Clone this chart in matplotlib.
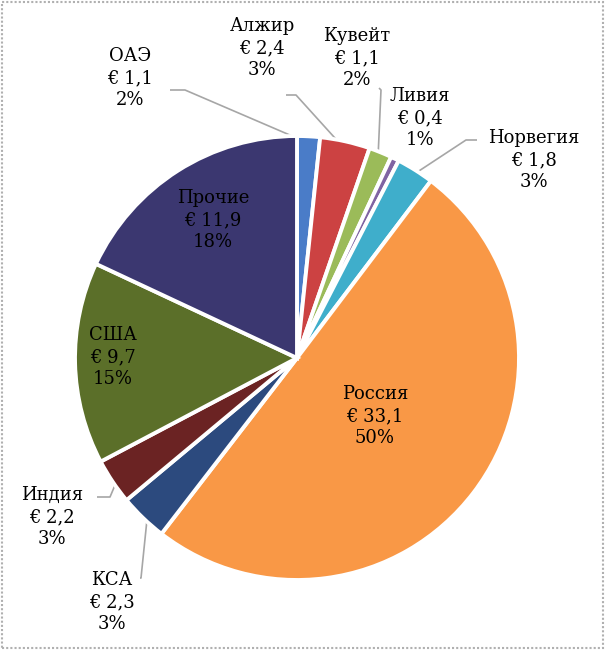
import numpy as np
import matplotlib
matplotlib.use("Agg")
import matplotlib.pyplot as plt
from matplotlib.patches import Rectangle

countries = ["ОАЭ", "Алжир", "Кувейт", "Ливия", "Норвегия", "Россия", "КСА", "Индия", "США", "Прочие"]
values = [1.1, 2.4, 1.1, 0.4, 1.8, 33.1, 2.3, 2.2, 9.7, 11.9]
value_labels = ["1,1", "2,4", "1,1", "0,4", "1,8", "33,1", "2,3", "2,2", "9,7", "11,9"]
percents = ["2%", "3%", "2%", "1%", "3%", "50%", "3%", "3%", "15%", "18%"]
colors = ["#4A7CC8", "#CC4242", "#9BBB59", "#8064A2", "#3FAECB",
          "#F99846", "#2C4A7E", "#6B2323", "#5B6F29", "#3B3770"]

W, H = 606, 650
fig = plt.figure(figsize=(W / 100, H / 100), dpi=100)
ax = fig.add_axes([0, 0, 1, 1])

cx, cy, R = 297, H - 358, 222
wedges, _ = ax.pie(values, colors=colors, startangle=90, counterclock=False,
                   center=(cx, cy), radius=R,
                   wedgeprops=dict(edgecolor="white", linewidth=2.8))
ax.set_xlim(0, W)
ax.set_ylim(0, H)
ax.set_aspect("equal")
ax.axis("off")

# label layout (pixel positions in image coords), leader bend point or None
label_pos = {
    "ОАЭ": ((130, 78), (185, 90)),
    "Алжир": ((262, 48), (296, 95)),
    "Кувейт": ((357, 58), (381, 90)),
    "Ливия": ((420, 118), None),
    "Норвегия": ((534, 160), (466, 140)),
    "Прочие": ((213, 220), None),
    "США": ((113, 357), None),
    "Россия": ((375, 416), None),
    "Индия": ((52, 517), (110, 497)),
    "КСА": ((112, 602), (141, 578)),
}
text_start = {
    "ОАЭ": (170, 90), "Алжир": (286, 95), "Кувейт": (379, 88),
    "Норвегия": (477, 140), "Индия": (97, 497), "КСА": (140, 578),
}

total = sum(values)
cum = 0.0
for name, v, vl, pc, w in zip(countries, values, value_labels, percents, wedges):
    mid = (cum + v / 2) / total * 2 * np.pi
    cum += v
    (lx, ly), bend = label_pos[name]
    ax.text(lx, H - ly, f"{name}\n€ {vl}\n{pc}", ha="center", va="center",
            fontsize=13, family="DejaVu Serif", linespacing=1.26, color="black")
    if bend is not None:
        ex = cx + R * 0.97 * np.sin(mid)
        ey = cy + R * 0.97 * np.cos(mid)
        sx, sy = text_start[name]
        ax.plot([sx, bend[0], ex], [H - sy, H - bend[1], ey],
                color="#A6A6A6", lw=1.2, zorder=0.5, solid_capstyle="butt")

# dotted frame around the picture
fig.patches.append(Rectangle((1.5 / W, 2.5 / H), (W - 5) / W, (H - 4) / H,
                             transform=fig.transFigure, fill=False,
                             edgecolor="#B0B0B0", lw=1.5, linestyle=(0, (1, 1))))

fig.savefig("out.png", dpi=100)
